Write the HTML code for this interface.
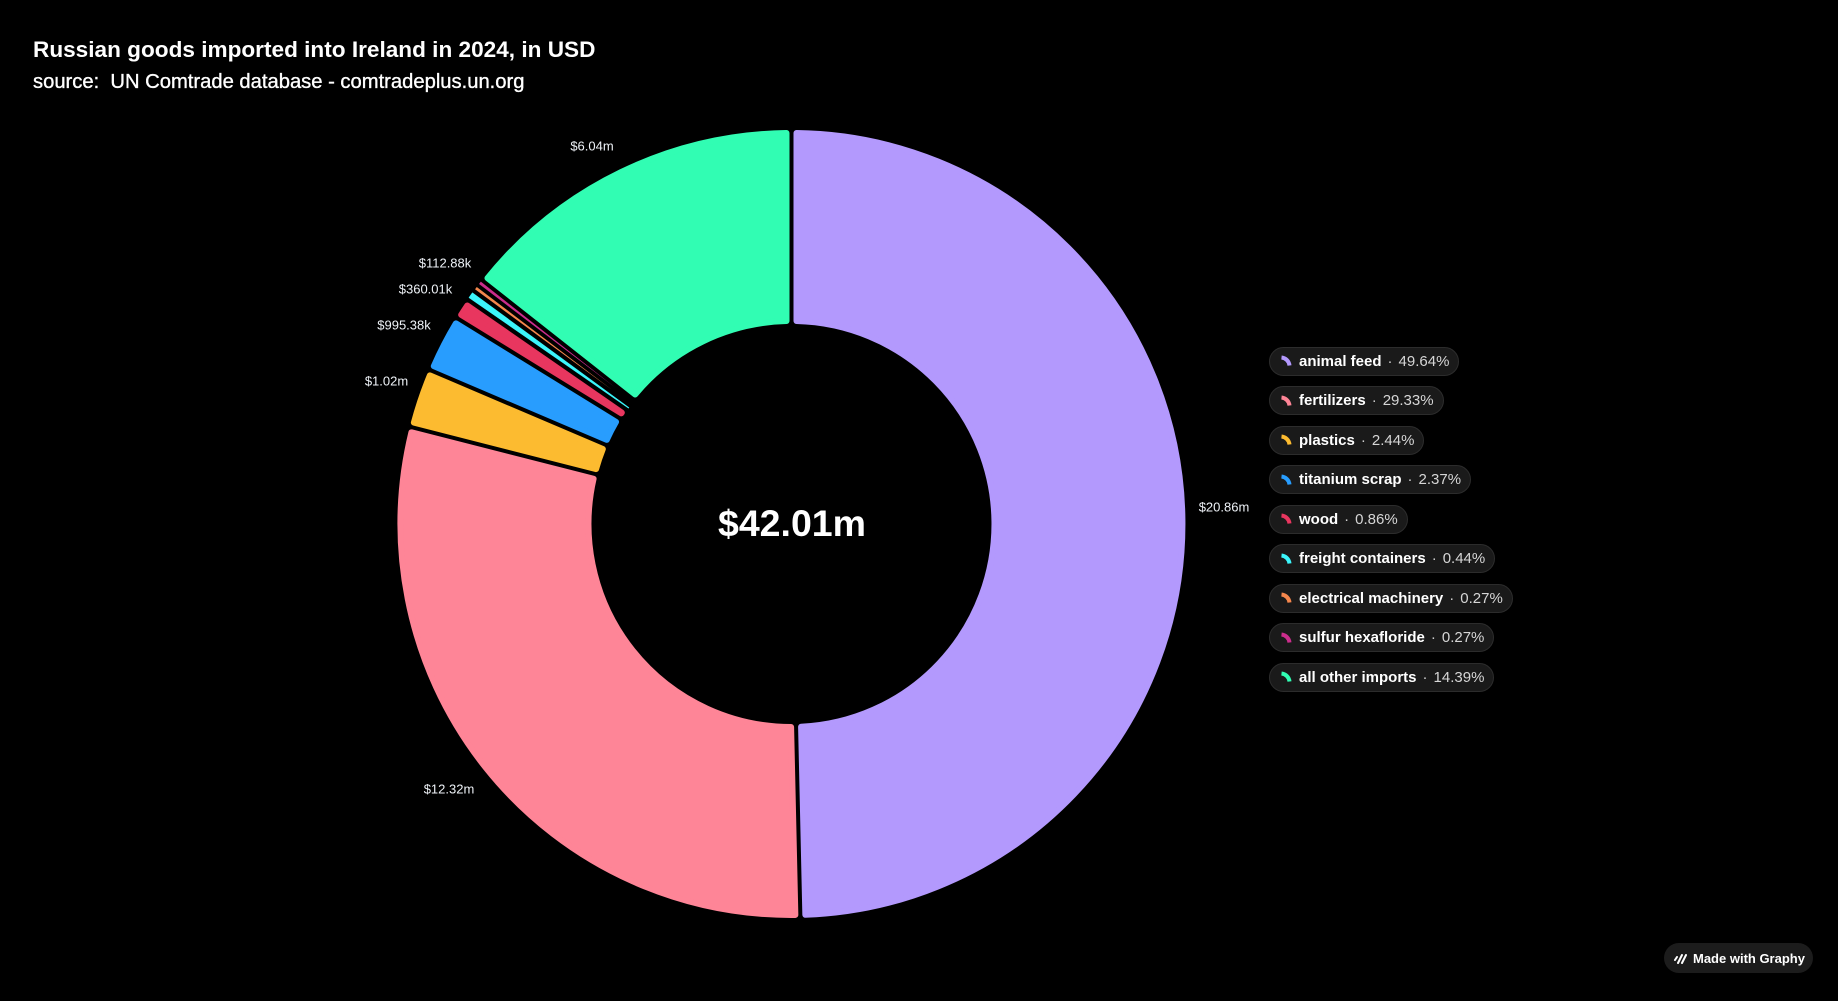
<!DOCTYPE html>
<html>
<head>
<meta charset="utf-8">
<style>
  html, body { margin:0; padding:0; background:#000; }
  body { width:1838px; height:1001px; position:relative; overflow:hidden; font-family:"Liberation Sans", Arial, sans-serif; }
  svg.chart { position:absolute; left:0; top:0; }
  .pill { position:absolute; left:1269px; height:29px; box-sizing:border-box; border:1px solid #2c2c2c; background:#1a1a1a; border-radius:15px; display:flex; align-items:center; padding:0 9px 0 10px; font-size:15px; white-space:nowrap; }
  .pill svg { width:12px; height:12px; margin-right:7px; flex:none; }
  .pill .lb { color:#fff; font-weight:bold; }
  .pill .dt { color:#cfcfcf; margin:0 6px; }
  .pill .vl { color:#d6d6d6; }
  .badge { position:absolute; left:1664px; top:943px; width:149px; height:30px; border-radius:15px; background:#1c1c1c; display:flex; align-items:center; box-sizing:border-box; padding-left:9px; color:#fff; font-weight:bold; font-size:13px; }
  .badge svg { width:14px; height:12px; margin-right:6px; }
</style>
</head>
<body>
<svg class="chart" width="1838" height="1001" viewBox="0 0 1838 1001" xmlns="http://www.w3.org/2000/svg">
  <text x="33" y="57" font-family="Liberation Sans, Arial, sans-serif" font-weight="bold" font-size="22.6" fill="#ffffff">Russian goods imported into Ireland in 2024, in USD</text>
  <text x="33" y="88" font-family="Liberation Sans, Arial, sans-serif" font-size="20.2" fill="#ffffff" stroke="#ffffff" stroke-width="0.35">source:&#160; UN Comtrade database - comtradeplus.un.org</text>

  <g stroke-linejoin="round" stroke-width="6">
    <path d="M796.5,133.03 A391,391 0 0 1 805.34,914.75 L801.09,726.77 A203,203 0 0 0 796.5,321.06 Z" fill="#b399fd" stroke="#b399fd"/>
    <path d="M795.34,914.98 A391,391 0 0 1 411.40,432.33 L593.61,478.75 A203,203 0 0 0 791.09,727.0 Z" fill="#fe8597" stroke="#fe8597"/>
    <path d="M413.87,422.64 A391,391 0 0 1 429.86,375.36 L602.84,449.06 A203,203 0 0 0 596.08,469.06 Z" fill="#fcbb30" stroke="#fcbb30"/>
    <path d="M433.78,366.16 A391,391 0 0 1 455.91,323.35 L616.05,421.90 A203,203 0 0 0 606.76,439.86 Z" fill="#289dfe" stroke="#289dfe"/>
    <path d="M461.15,314.83 A391,391 0 0 1 467.24,305.52 L621.82,412.57 A203,203 0 0 0 621.29,413.38 Z" fill="#e8365f" stroke="#e8365f"/>
    <path d="M487.48,278.12 A391,391 0 0 1 786.5,133.03 L786.5,321.06 A203,203 0 0 0 635.18,394.49 Z" fill="#31fdb3" stroke="#31fdb3"/>
  </g>
  <path d="M469.02,297.63 A394,394 0 0 1 472.44,292.83 L628.82,407.66 A200,200 0 0 0 628.52,408.09 Z" fill="#3cf5fb" stroke="#3cf5fb" stroke-width="0.6" stroke-linejoin="round"/>
  <path d="M475.04,289.28 A394,394 0 0 1 476.77,286.98 L612.08,389.90 Z" fill="#f5874d"/>
  <path d="M479.07,283.95 A394,394 0 0 1 480.84,281.67 L614.38,386.88 Z" fill="#cc2d8d"/>

  <g font-family="Liberation Sans, Arial, sans-serif" font-size="13" fill="#eef2f7" text-anchor="middle" dominant-baseline="central">
    <text x="592" y="146">$6.04m</text>
    <text x="445" y="263">$112.88k</text>
    <text x="425.5" y="289">$360.01k</text>
    <text x="404" y="325">$995.38k</text>
    <text x="386.5" y="381">$1.02m</text>
    <text x="449" y="789">$12.32m</text>
    <text x="1224" y="507">$20.86m</text>
  </g>

  <text x="792" y="536" text-anchor="middle" font-family="Liberation Sans, Arial, sans-serif" font-weight="bold" font-size="37.5" fill="#ffffff">$42.01m</text>
</svg>

<div class="pill" style="top:346.5px"><svg viewBox="0 0 12 12"><path d="M1.5,2.5 A9,9 0 0 1 9.5,10.5" fill="none" stroke="#b399fd" stroke-width="4"/></svg><span class="lb">animal feed</span><span class="dt">·</span><span class="vl">49.64%</span></div>
<div class="pill" style="top:386px"><svg viewBox="0 0 12 12"><path d="M1.5,2.5 A9,9 0 0 1 9.5,10.5" fill="none" stroke="#fe8597" stroke-width="4"/></svg><span class="lb">fertilizers</span><span class="dt">·</span><span class="vl">29.33%</span></div>
<div class="pill" style="top:425.5px"><svg viewBox="0 0 12 12"><path d="M1.5,2.5 A9,9 0 0 1 9.5,10.5" fill="none" stroke="#fcbb30" stroke-width="4"/></svg><span class="lb">plastics</span><span class="dt">·</span><span class="vl">2.44%</span></div>
<div class="pill" style="top:465px"><svg viewBox="0 0 12 12"><path d="M1.5,2.5 A9,9 0 0 1 9.5,10.5" fill="none" stroke="#289dfe" stroke-width="4"/></svg><span class="lb">titanium scrap</span><span class="dt">·</span><span class="vl">2.37%</span></div>
<div class="pill" style="top:504.5px"><svg viewBox="0 0 12 12"><path d="M1.5,2.5 A9,9 0 0 1 9.5,10.5" fill="none" stroke="#e8365f" stroke-width="4"/></svg><span class="lb">wood</span><span class="dt">·</span><span class="vl">0.86%</span></div>
<div class="pill" style="top:544px"><svg viewBox="0 0 12 12"><path d="M1.5,2.5 A9,9 0 0 1 9.5,10.5" fill="none" stroke="#3cf5fb" stroke-width="4"/></svg><span class="lb">freight containers</span><span class="dt">·</span><span class="vl">0.44%</span></div>
<div class="pill" style="top:583.5px"><svg viewBox="0 0 12 12"><path d="M1.5,2.5 A9,9 0 0 1 9.5,10.5" fill="none" stroke="#f5874d" stroke-width="4"/></svg><span class="lb">electrical machinery</span><span class="dt">·</span><span class="vl">0.27%</span></div>
<div class="pill" style="top:623px"><svg viewBox="0 0 12 12"><path d="M1.5,2.5 A9,9 0 0 1 9.5,10.5" fill="none" stroke="#cc2d8d" stroke-width="4"/></svg><span class="lb">sulfur hexafloride</span><span class="dt">·</span><span class="vl">0.27%</span></div>
<div class="pill" style="top:662.5px"><svg viewBox="0 0 12 12"><path d="M1.5,2.5 A9,9 0 0 1 9.5,10.5" fill="none" stroke="#31fdb3" stroke-width="4"/></svg><span class="lb">all other imports</span><span class="dt">·</span><span class="vl">14.39%</span></div>

<div class="badge"><svg viewBox="0 0 14 12"><path d="M2,8 L4,5 M5,11 L9,3 M9,11 L13,3" stroke="#fff" stroke-width="2" stroke-linecap="round"/></svg>Made with Graphy</div>
</body>
</html>
